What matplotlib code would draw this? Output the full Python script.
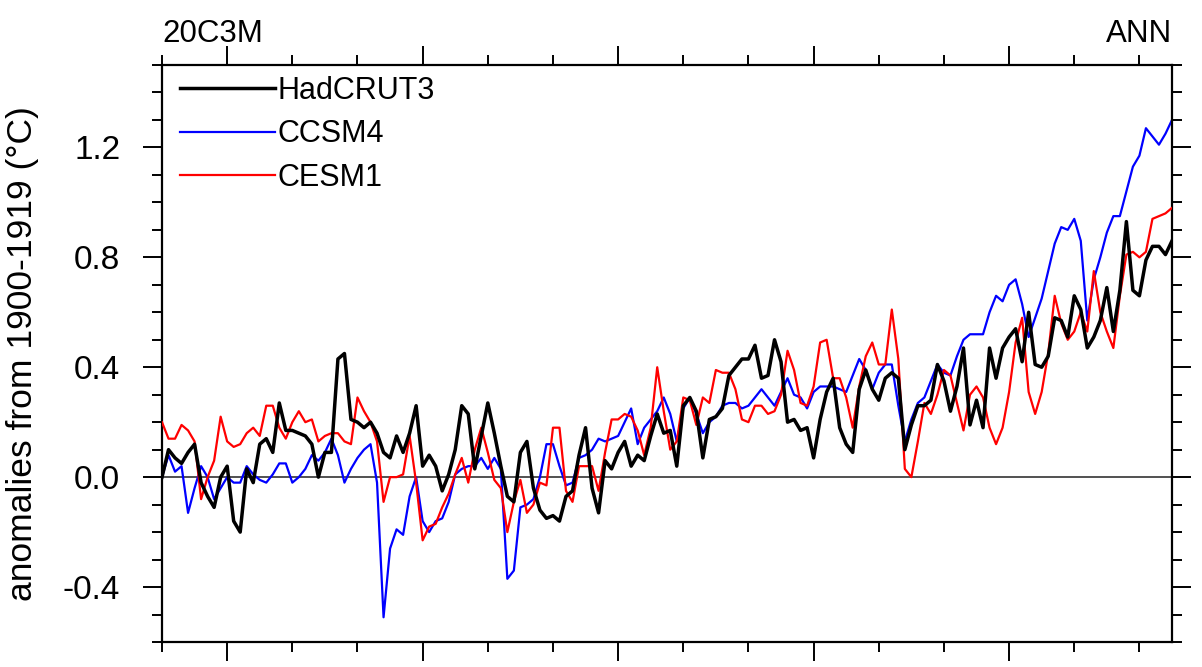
import numpy as np
import matplotlib
matplotlib.use("Agg")
import matplotlib.pyplot as plt
from matplotlib.ticker import MultipleLocator, FixedLocator

plt.rcParams['font.family'] = ['Liberation Sans', 'DejaVu Sans']

years = list(range(1850, 2006))

hadcrut3 = [
    0.00, 0.10, 0.07, 0.05, 0.09, 0.12, -0.02, -0.07, -0.11, 0.00, 0.04, -0.16, -0.20, 0.03, -0.02, 0.12, 0.14, 0.09, 0.27, 0.17, 0.17, 0.16, 0.15,
    0.12, 0.00, 0.09, 0.09, 0.43, 0.45, 0.21, 0.20, 0.18, 0.20, 0.16, 0.09, 0.07, 0.15, 0.09, 0.16, 0.26, 0.04, 0.08, 0.04, -0.05,
    0.01, 0.10, 0.26, 0.23, 0.03, 0.15, 0.27, 0.16, 0.04, -0.07, -0.09, 0.09, 0.13, -0.04, -0.12, -0.15, -0.14, -0.16, -0.07, -0.05, 0.08, 0.18,
    -0.04, -0.13, 0.06, 0.03, 0.09, 0.13, 0.04, 0.08, 0.06, 0.15, 0.23, 0.16, 0.17, 0.04, 0.26, 0.29, 0.24, 0.07, 0.21, 0.22,
    0.25, 0.37, 0.40, 0.43, 0.43, 0.48, 0.36, 0.37, 0.50, 0.42, 0.20, 0.21, 0.17, 0.18, 0.07, 0.21, 0.31, 0.36, 0.18, 0.12, 0.09, 0.32,
    0.39, 0.32, 0.28, 0.36, 0.38, 0.36, 0.10, 0.19, 0.26, 0.26, 0.28, 0.41, 0.35, 0.24, 0.33, 0.47, 0.19, 0.28, 0.18, 0.47, 0.36, 0.47,
    0.51, 0.54, 0.42, 0.60, 0.41, 0.40, 0.44, 0.58, 0.57, 0.51, 0.66, 0.61, 0.47, 0.51, 0.57, 0.69, 0.53, 0.68, 0.93, 0.68, 0.66, 0.79, 0.84, 0.84, 0.81, 0.86,
]

ccsm4 = [
    0.00, 0.08, 0.02, 0.04, -0.13, -0.04, 0.04, 0.00, -0.08, -0.04, 0.00, -0.02, -0.02, 0.04, 0.01, -0.01, -0.02, 0.01, 0.05, 0.05, -0.02, 0.00, 0.03,
    0.08, 0.06, 0.09, 0.14, 0.08, -0.02, 0.03, 0.07, 0.10, 0.12, -0.02, -0.51, -0.26, -0.19, -0.21, -0.07, 0.00, -0.16, -0.20, -0.16, -0.15,
    -0.09, 0.01, 0.03, 0.04, 0.04, 0.07, 0.03, 0.07, 0.03, -0.37, -0.34, -0.11, -0.10, -0.08, 0.00, 0.12, 0.12, 0.04, -0.03, -0.02, 0.07, 0.08,
    0.10, 0.14, 0.13, 0.14, 0.15, 0.20, 0.25, 0.12, 0.18, 0.21, 0.24, 0.29, 0.23, 0.13, 0.25, 0.29, 0.23, 0.16, 0.20, 0.22,
    0.26, 0.27, 0.27, 0.25, 0.26, 0.29, 0.32, 0.29, 0.26, 0.31, 0.36, 0.30, 0.29, 0.25, 0.31, 0.33, 0.33, 0.33, 0.32, 0.31, 0.37, 0.43,
    0.39, 0.32, 0.38, 0.41, 0.41, 0.26, 0.13, 0.21, 0.27, 0.29, 0.35, 0.41, 0.38, 0.37, 0.44, 0.50, 0.52, 0.52, 0.52, 0.60, 0.66, 0.64,
    0.70, 0.72, 0.63, 0.51, 0.58, 0.65, 0.75, 0.85, 0.91, 0.90, 0.94, 0.86, 0.57, 0.72, 0.80, 0.89, 0.95, 0.95, 1.04, 1.13, 1.17, 1.27, 1.24, 1.21, 1.25, 1.30,
]

cesm1 = [
    0.20, 0.14, 0.14, 0.19, 0.17, 0.13, -0.08, 0.00, 0.06, 0.22, 0.13, 0.11, 0.12, 0.16, 0.18, 0.15, 0.26, 0.26, 0.18, 0.14, 0.20, 0.24, 0.20,
    0.21, 0.13, 0.15, 0.16, 0.16, 0.13, 0.12, 0.29, 0.24, 0.20, 0.13, -0.09, 0.00, 0.00, 0.01, 0.15, -0.02, -0.23, -0.18, -0.17, -0.11,
    -0.06, 0.01, 0.07, -0.02, 0.10, 0.18, 0.09, -0.01, -0.04, -0.20, -0.09, -0.01, -0.13, -0.10, -0.02, -0.03, 0.18, 0.18, -0.05, -0.09, 0.04, 0.04,
    0.04, -0.05, 0.09, 0.21, 0.21, 0.23, 0.22, 0.17, 0.08, 0.18, 0.40, 0.24, 0.10, 0.13, 0.29, 0.28, 0.19, 0.29, 0.27, 0.39,
    0.38, 0.38, 0.32, 0.21, 0.20, 0.26, 0.26, 0.23, 0.24, 0.30, 0.46, 0.39, 0.27, 0.26, 0.33, 0.49, 0.50, 0.36, 0.36, 0.29, 0.18, 0.33,
    0.44, 0.49, 0.41, 0.41, 0.61, 0.43, 0.03, 0.00, 0.13, 0.27, 0.23, 0.30, 0.39, 0.37, 0.27, 0.17, 0.30, 0.33, 0.29, 0.18, 0.12, 0.18,
    0.31, 0.49, 0.58, 0.31, 0.23, 0.31, 0.45, 0.66, 0.56, 0.50, 0.53, 0.60, 0.53, 0.75, 0.60, 0.53, 0.47, 0.66, 0.81, 0.82, 0.80, 0.82, 0.94, 0.95, 0.96, 0.98,
]

y_ticks = [-0.4, 0.0, 0.4, 0.8, 1.2]
y_ticklabels = ["-0.4", "0.0", "0.4", "0.8", "1.2"]

fig = plt.figure(figsize=(12.02, 6.67), dpi=100)
ax = fig.add_axes([162/1202, 1 - 642/667, (1172-162)/1202, (642-65)/667])

ax.axhline(0.0, color='#333333', lw=1.2, zorder=1)
ax.plot(years, ccsm4, color='#0000ff', lw=1.6, label='CCSM4', zorder=2)
ax.plot(years, cesm1, color='#ff0000', lw=1.6, label='CESM1', zorder=3)
ax.plot(years, hadcrut3, color='black', lw=2.5, label='HadCRUT3', zorder=4)

ax.set_xlim(1850, 2005)
ax.set_ylim(-0.6, 1.5)

ax.xaxis.set_major_locator(FixedLocator([1860, 1890, 1920, 1950, 1980]))
ax.xaxis.set_minor_locator(MultipleLocator(10))
ax.yaxis.set_major_locator(FixedLocator(y_ticks))
ax.yaxis.set_minor_locator(MultipleLocator(0.1))
ax.set_yticklabels(y_ticklabels)
ax.tick_params(axis='both', which='both', direction='out', top=True, right=True,
               labelbottom=False, labeltop=False, labelright=False, labelleft=True)
ax.tick_params(which='major', length=14, width=1.4)
ax.tick_params(which='minor', length=7.5, width=1.4)
ax.tick_params(axis='y', labelsize=24, pad=16)
for s in ax.spines.values():
    s.set_linewidth(1.6)

ax.set_ylabel('anomalies from 1900-1919 (\u00b0C)', fontsize=25.5, labelpad=17)

handles, labels = ax.get_legend_handles_labels()
order = [2, 0, 1]
leg = ax.legend([handles[i] for i in order], [labels[i] for i in order],
                loc='upper left', bbox_to_anchor=(18/1010, 1 - 11/577), frameon=False,
                fontsize=22, handlelength=3.1, handletextpad=0.1,
                labelspacing=0.44, borderaxespad=0.0, borderpad=0.0)

fig.text(162/1202, 1 - 42/667, '20C3M', fontsize=22.5, ha='left', va='baseline')
fig.text(1172/1202, 1 - 42/667, 'ANN', fontsize=22.5, ha='right', va='baseline')

fig.savefig('out.png', dpi=100)
